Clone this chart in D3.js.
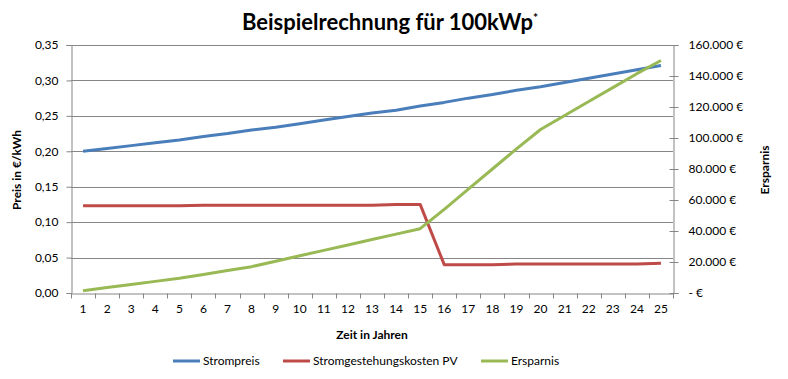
<!DOCTYPE html>
<html>
<head>
<meta charset="utf-8">
<script src="https://cdn.jsdelivr.net/npm/d3@7"></script>
<style>
  body { margin: 0; background: #fff; }
  svg { font-family: Lato, "Open Sans", sans-serif; }
</style>
</head>
<body>
<svg id="chart" width="788" height="379"></svg>
<script>
const width = 788;
const height = 379;

// Data
const years = d3.range(1, 26);
const strompreis = [0.200, 0.204, 0.208, 0.212, 0.216, 0.221, 0.225, 0.230, 0.234, 0.239,
  0.244, 0.249, 0.254, 0.258, 0.264, 0.269, 0.275, 0.280, 0.286, 0.291, 0.297, 0.303, 0.309, 0.315, 0.321];
const gestehung = [0.123, 0.123, 0.123, 0.123, 0.123, 0.124, 0.124, 0.124, 0.124, 0.124,
  0.124, 0.124, 0.124, 0.125, 0.125, 0.040, 0.040, 0.040, 0.041, 0.041, 0.041, 0.041, 0.041, 0.041, 0.042];
const ersparnis = [1500, 3500, 5500, 7500, 9500, 12000, 14500, 17000, 20500, 24000,
  27500, 31000, 34500, 38000, 41500, 54000, 67000, 80000, 93000, 105500, 114500, 123500, 132500, 141500, 150000];
const leftTicks = [0, 0.05, 0.10, 0.15, 0.20, 0.25, 0.30, 0.35];
const rightTicks = [0, 20000, 40000, 60000, 80000, 100000, 120000, 140000, 160000];

const series = [
  { name: "Strompreis", values: strompreis, color: "#4a7ebb", axis: "left" },
  { name: "Stromgestehungskosten PV", values: gestehung, color: "#be4b48", axis: "left" },
  { name: "Ersparnis", values: ersparnis, color: "#98b954", axis: "right" }
];

const margin = { top: 45, right: 115, bottom: 86, left: 71 };
const plotW = width - margin.left - margin.right;
const plotH = height - margin.top - margin.bottom;

const svg = d3.select("#chart");
const g = svg.append("g").attr("transform", `translate(${margin.left},${margin.top})`);

// Scales
const x = d3.scaleBand().domain(years).range([0, plotW]);
const yLeft = d3.scaleLinear().domain([0, 0.35]).range([plotH, 0]);
const yRight = d3.scaleLinear().domain([0, 160000]).range([plotH, 0]);

const de = d3.formatLocale({ decimal: ",", thousands: ".", grouping: [3], currency: ["", " €"] });
const fmtLeft = de.format(".2f");
const fmtRight = d => d === 0 ? "- €" : de.format(",")(d) + " €";

// Gridlines
g.append("g")
  .selectAll("line")
  .data(leftTicks.slice(1))
  .join("line")
    .attr("x1", 0).attr("x2", plotW)
    .attr("y1", d => Math.round(yLeft(d)) + 0.5)
    .attr("y2", d => Math.round(yLeft(d)) + 0.5)
    .attr("stroke", "#868686");

// Left axis
const leftAxis = g.append("g")
  .attr("transform", "translate(0.5,0)")
  .call(d3.axisLeft(yLeft).tickValues(leftTicks).tickFormat(fmtLeft).tickSizeOuter(0).tickSize(5).tickPadding(8));

// Right axis
const rightAxis = g.append("g")
  .attr("transform", `translate(${plotW + 0.5},0)`)
  .call(d3.axisRight(yRight).tickValues(rightTicks).tickFormat(fmtRight).tickSizeOuter(0).tickSize(5).tickPadding(10));
rightAxis.selectAll(".tick line").attr("x1", -4);

// Bottom axis, tick marks between categories
const bottomAxis = g.append("g")
  .attr("transform", `translate(0,${plotH + 0.5})`)
  .call(d3.axisBottom(x).tickSize(0).tickPadding(12));
bottomAxis.selectAll(".tick text").attr("dy", "0.6em");
bottomAxis.append("g")
  .selectAll("line")
  .data(d3.range(0, years.length + 1))
  .join("line")
    .attr("x1", i => Math.round(i * x.step()) + 0.5)
    .attr("x2", i => Math.round(i * x.step()) + 0.5)
    .attr("y1", 0).attr("y2", 5)
    .attr("stroke", "#868686");

[leftAxis, rightAxis, bottomAxis].forEach(a => {
  a.selectAll(".domain, line").attr("stroke", "#868686");
  a.selectAll("text").attr("fill", "#000").style("font-size", "12px").style("font-family", "Lato, sans-serif");
});

// Lines
const cx = d => x(d) + x.bandwidth() / 2;
series.forEach(s => {
  const yScale = s.axis === "left" ? yLeft : yRight;
  const line = d3.line().x((d, i) => cx(years[i])).y(d => yScale(d));
  g.append("path")
    .datum(s.values)
    .attr("fill", "none")
    .attr("stroke", s.color)
    .attr("stroke-width", 3)
    .attr("stroke-linejoin", "round")
    .attr("d", line);
});

// Title
const title = svg.append("text")
  .attr("x", 390).attr("y", 30)
  .attr("text-anchor", "middle")
  .style("font-size", "22px").style("font-weight", "bold");
title.append("tspan").text("Beispielrechnung für 100kWp");
title.append("tspan").text("*").attr("dy", -8).style("font-size", "12px");

// Axis titles
svg.append("text")
  .attr("transform", "translate(21,170) rotate(-90)")
  .attr("text-anchor", "middle")
  .style("font-size", "12px").style("font-weight", "bold")
  .text("Preis in €/kWh");

svg.append("text")
  .attr("transform", "translate(769,170) rotate(-90)")
  .attr("text-anchor", "middle")
  .style("font-size", "12px").style("font-weight", "bold")
  .text("Ersparnis");

svg.append("text")
  .attr("x", margin.left + plotW / 2).attr("y", 339)
  .attr("text-anchor", "middle")
  .style("font-size", "12px").style("font-weight", "bold")
  .text("Zeit in Jahren");

// Legend
const legendX = [173, 283, 481];
const legend = svg.append("g")
  .selectAll("g")
  .data(series)
  .join("g")
    .attr("transform", (d, i) => `translate(${legendX[i]},361)`);
legend.append("line")
  .attr("x1", 0).attr("x2", 27)
  .attr("stroke", d => d.color).attr("stroke-width", 3);
legend.append("text")
  .attr("x", 30).attr("dy", "0.35em")
  .style("font-size", "12px")
  .text(d => d.name);
</script>
</body>
</html>
